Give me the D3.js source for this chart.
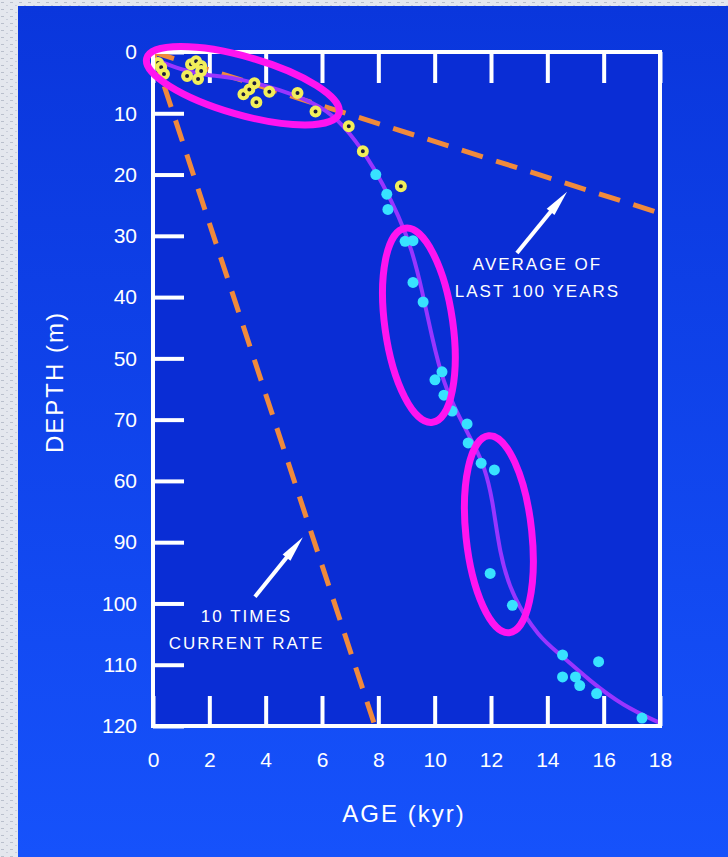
<!DOCTYPE html>
<html>
<head>
<meta charset="utf-8">
<script src="https://cdn.jsdelivr.net/npm/d3@7"></script>
<style>
  body { margin: 0; background: #e2e5ec; }
  svg { display: block; }
  text { font-family: "Liberation Sans", Arial, sans-serif; fill: #fff; }
</style>
</head>
<body>
<div id="chart"></div>
<script>
// tick values and the labels as they are printed on the picture
var ageTicks = [0, 2, 4, 6, 8, 10, 12, 14, 16, 18];
var depthTicks = [0, 10, 20, 30, 40, 50, 60, 70, 80, 90, 100, 110];
var depthLabels = ["0", "10", "20", "30", "40", "50", "70", "60", "90", "100", "110", "120"];

// yellow samples [age, depth]
var yellowAge   = [0.18, 0.29, 0.39, 1.21, 1.35, 1.53, 1.60, 1.71, 1.71, 3.21, 3.42, 3.60, 3.67, 4.13, 5.13, 5.77, 6.95, 7.45, 8.80];
var yellowDepth = [1.8, 2.5, 3.6, 3.9, 2.0, 1.5, 4.4, 2.3, 3.1, 6.9, 6.1, 5.1, 8.2, 6.5, 6.7, 9.7, 12.1, 16.2, 21.9];

// cyan samples
var cyanAge   = [7.91, 8.30, 8.34, 8.95, 9.23, 9.23, 9.59, 10.01, 10.26, 10.33, 10.62, 11.15, 11.19, 11.65, 12.12, 11.97, 12.76, 14.54, 15.82, 14.54, 15.00, 15.15, 15.75, 17.36];
var cyanDepth = [20.0, 23.2, 25.7, 30.9, 30.8, 37.6, 40.8, 53.5, 52.2, 56.0, 58.6, 60.7, 63.8, 67.1, 68.2, 85.1, 90.3, 98.4, 99.5, 102.0, 102.0, 103.4, 104.7, 108.7];

// fitted curve
var curveAge   = [0, 1.0, 1.85, 2.85, 4.53, 5.99, 6.81, 7.66, 8.13, 8.73, 9.19, 9.55, 9.90, 10.30, 10.87, 11.44, 11.75, 12.05, 12.30, 12.76, 13.72, 14.43, 15.50, 16.68, 18.0];
var curveDepth = [1.1, 2.9, 3.8, 4.1, 6.1, 8.8, 12.1, 17.5, 21.3, 26.8, 32.2, 38.8, 46.5, 54.0, 59.6, 64.5, 67.5, 72.7, 81.8, 89.0, 95.6, 98.2, 102.6, 106.7, 109.5];

// dashed rate lines: [age, depth] end points
var rateLines = [
  [[0, 0], [7.88, 110]],
  [[0, 0], [18, 26.3]]
];

// annotations
var notes = [
  {lines: ["AVERAGE OF", "LAST 100 YEARS"], at: [13.65, 35.5], tail: [12.92, 32.8], head: [14.70, 22.8]},
  {lines: ["10 TIMES", "CURRENT RATE"], at: [3.32, 93.0], tail: [3.62, 88.9], head: [5.32, 79.2]}
];
var rings = [
  {c: [3.19, 5.5], rx: 100, ry: 29, rot: 16},
  {c: [9.44, 44.6], rx: 34, ry: 98, rot: -8},
  {c: [12.28, 78.7], rx: 33, ry: 99, rot: -6}
];

var W = 728, H = 857;
var margin = {top: 52, right: 68, bottom: 131, left: 153},
  width = W - margin.left - margin.right,
  height = H - margin.top - margin.bottom;

var svg = d3.select("#chart").append("svg")
  .attr("width", W)
  .attr("height", H);

var defs = svg.append("defs");
var grad = defs.append("linearGradient")
  .attr("id", "bg").attr("x1", 0).attr("y1", 0).attr("x2", 0).attr("y2", 1);
grad.append("stop").attr("offset", "0%").attr("stop-color", "#0a36dc");
grad.append("stop").attr("offset", "100%").attr("stop-color", "#1652fb");

// speckled paper strip
var pat = defs.append("pattern").attr("id", "paper")
  .attr("width", 9).attr("height", 7).attr("patternUnits", "userSpaceOnUse");
pat.append("rect").attr("width", 9).attr("height", 7).attr("fill", "#e4e7ee");
pat.append("rect").attr("x", 1).attr("y", 2).attr("width", 3).attr("height", 1).attr("fill", "#b9bfcc");
pat.append("rect").attr("x", 6).attr("y", 5).attr("width", 2).attr("height", 1).attr("fill", "#c9ceda");

svg.append("rect").attr("width", W).attr("height", H).attr("fill", "url(#paper)");
svg.append("rect").attr("x", 18).attr("y", 6).attr("width", W - 18).attr("height", H - 6).attr("fill", "url(#bg)");

var g = svg.append("g")
  .attr("transform", "translate(" + margin.left + "," + margin.top + ")");

var x = d3.scaleLinear().domain([0, 18]).range([0, width]);
var y = d3.scaleLinear().domain([0, 110]).range([0, height]);

g.append("rect").attr("width", width).attr("height", height).attr("fill", "#0a2dd5");

// axes, ticks pointing inward
var xb = g.append("g")
  .attr("transform", "translate(0," + height + ")")
  .call(d3.axisBottom(x).tickValues(ageTicks).tickSize(-30).tickPadding(26));
var xt = g.append("g")
  .call(d3.axisTop(x).tickValues(ageTicks).tickSize(-31).tickFormat(""));
var yl = g.append("g")
  .call(d3.axisLeft(y).tickValues(depthTicks).tickSize(-31).tickPadding(16)
    .tickFormat(function(d, i) { return depthLabels[i]; }));

[xb, xt, yl].forEach(function(a) {
  a.select(".domain").remove();
  a.selectAll(".tick line").attr("stroke", "#fff").attr("stroke-width", 4);
  a.selectAll(".tick text").attr("fill", "#fff").style("font-size", "21px")
    .style("font-family", "'Liberation Sans', Arial, sans-serif");
});

// dashed lines
g.append("clipPath").attr("id", "plot").append("rect")
  .attr("width", width).attr("height", height);
g.selectAll(".rate").data(rateLines).enter().append("line")
  .attr("clip-path", "url(#plot)")
  .attr("x1", function(d) { return x(d[0][0]); })
  .attr("y1", function(d) { return y(d[0][1]); })
  .attr("x2", function(d) { return x(d[1][0]); })
  .attr("y2", function(d) { return y(d[1][1]); })
  .attr("stroke", "#f08a3c")
  .attr("stroke-width", 5)
  .attr("stroke-dasharray", "22,14");

// fitted curve
var curveData = curveAge.map(function(a, i) { return [a, curveDepth[i]]; });
g.append("path")
  .datum(curveData)
  .attr("fill", "none")
  .attr("stroke", "#9a35ff")
  .attr("stroke-width", 4)
  .attr("d", d3.line()
    .curve(d3.curveBasis)
    .x(function(d) { return x(d[0]); })
    .y(function(d) { return y(d[1]); }));

// points
g.selectAll(".cy").data(cyanAge).enter().append("circle")
  .attr("cx", function(d) { return x(d); })
  .attr("cy", function(d, i) { return y(cyanDepth[i]); })
  .attr("r", 5.5)
  .attr("fill", "#38e2ff");
g.selectAll(".ye").data(yellowAge).enter().append("circle")
  .attr("cx", function(d) { return x(d); })
  .attr("cy", function(d, i) { return y(yellowDepth[i]); })
  .attr("r", 4)
  .attr("fill", "#1c1c3a")
  .attr("stroke", "#f2ef5a")
  .attr("stroke-width", 4);

// frame
g.append("rect").attr("width", width).attr("height", height)
  .attr("fill", "none").attr("stroke", "#fff").attr("stroke-width", 4);

// annotations: text and arrows
notes.forEach(function(n) {
  var t = g.append("text")
    .attr("text-anchor", "middle")
    .style("font-size", "17px")
    .style("letter-spacing", "2px");
  n.lines.forEach(function(s, i) {
    t.append("tspan").attr("x", x(n.at[0])).attr("y", y(n.at[1]) + i * 27).text(s);
  });
  var x1 = x(n.tail[0]), y1 = y(n.tail[1]), x2 = x(n.head[0]), y2 = y(n.head[1]);
  var ang = Math.atan2(y2 - y1, x2 - x1);
  g.append("line")
    .attr("x1", x1).attr("y1", y1)
    .attr("x2", x2 - 14 * Math.cos(ang)).attr("y2", y2 - 14 * Math.sin(ang))
    .attr("stroke", "#fff").attr("stroke-width", 4);
  var len = 26, half = 5;
  var bx = x2 - len * Math.cos(ang), by = y2 - len * Math.sin(ang);
  g.append("path")
    .attr("d", "M" + x2 + "," + y2 +
      "L" + (bx - half * Math.sin(ang)) + "," + (by + half * Math.cos(ang)) +
      "L" + (bx + half * Math.sin(ang)) + "," + (by - half * Math.cos(ang)) + "Z")
    .attr("fill", "#fff");
});

// magenta rings
g.selectAll(".ring").data(rings).enter().append("ellipse")
  .attr("transform", function(d) {
    return "translate(" + x(d.c[0]) + "," + y(d.c[1]) + ") rotate(" + d.rot + ")";
  })
  .attr("rx", function(d) { return d.rx; })
  .attr("ry", function(d) { return d.ry; })
  .attr("fill", "none")
  .attr("stroke", "#ff14f0")
  .attr("stroke-width", 7);

// axis titles
svg.append("text")
  .attr("x", 404).attr("y", 822)
  .attr("text-anchor", "middle")
  .style("font-size", "24px")
  .style("letter-spacing", "2px")
  .text("AGE (kyr)");
svg.append("text")
  .attr("transform", "translate(63,382) rotate(-90)")
  .attr("text-anchor", "middle")
  .style("font-size", "24px")
  .style("letter-spacing", "2px")
  .text("DEPTH (m)");
</script>
</body>
</html>
